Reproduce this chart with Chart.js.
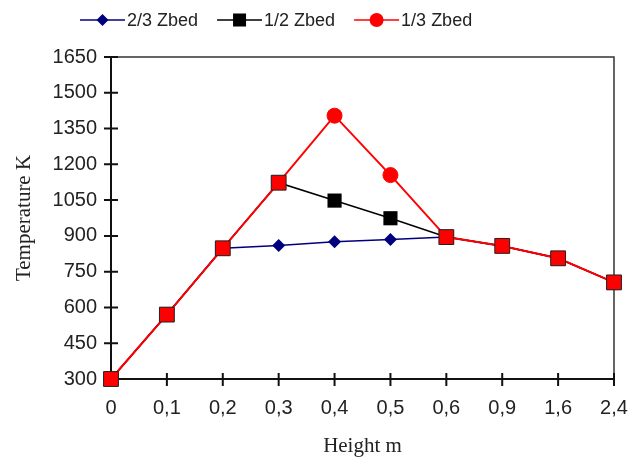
<!DOCTYPE html>
<html>
<head>
<meta charset="utf-8">
<script src="https://cdn.jsdelivr.net/npm/chart.js@4.4.1/dist/chart.umd.min.js"></script>
<style>
  html, body { margin: 0; padding: 0; background: #fff; }
  #wrap { width: 634px; height: 463px; }
</style>
</head>
<body>
<div id="wrap"><canvas id="tempChart"></canvas></div>
<script>
// Bed heights (category labels) and temperatures
const heights = ['0', '0,1', '0,2', '0,3', '0,4', '0,5', '0,6', '0,9', '1,6', '2,4'];
const zbed23 = [300, 570, 848, 860, 875, 885, 895, 858, 806, 705];
const zbed12 = [300, 570, 848, 1123, 1048, 974, 895, 858, 806, 705];
const zbed13 = [300, 570, 848, 1123, 1404, 1155, 895, 858, 806, 705];
const seriesNames = ['2/3 Zbed', '1/2 Zbed', '1/3 Zbed'];
const yMin = 300;
const yMax = 1650;
const yStep = 150;

const BLUE = '#00007f';
const BLACK = '#000000';
const RED = '#ff0000';
const serif = "'Liberation Serif', 'Times New Roman', serif";

// where the 1/3 curve sits on top of the others it shows squares, else circles
const redStyles = zbed13.map((v, i) => v === zbed12[i] ? 'rect' : 'circle');
const legendShapes = ['diamond', 'square', 'circle'];

// legend row: line + marker, then the name
const legendPlugin = {
  id: 'lineLegend',
  afterDraw(chart) {
    const { ctx } = chart;
    let x = 80;
    const y = 20;
    ctx.save();
    ctx.font = "18px 'Liberation Sans', Arial, sans-serif";
    ctx.textBaseline = 'middle';
    chart.data.datasets.forEach((ds, i) => {
      const c = ds.borderColor;
      ctx.strokeStyle = c;
      ctx.fillStyle = c;
      ctx.lineWidth = 1.5;
      ctx.beginPath();
      ctx.moveTo(x, y);
      ctx.lineTo(x + 45, y);
      ctx.stroke();
      const mx = x + 22.5;
      ctx.beginPath();
      if (legendShapes[i] === 'diamond') {
        ctx.moveTo(mx, y - 6); ctx.lineTo(mx + 6, y); ctx.lineTo(mx, y + 6); ctx.lineTo(mx - 6, y);
      } else if (legendShapes[i] === 'square') {
        ctx.rect(mx - 6.5, y - 6.5, 13, 13);
      } else {
        ctx.arc(mx, y, 7, 0, Math.PI * 2);
      }
      ctx.closePath();
      ctx.fill();
      ctx.fillStyle = '#222';
      ctx.fillText(ds.label, x + 47, y + 1);
      x += 47 + ctx.measureText(ds.label).width + 19;
    });
    ctx.restore();
  }
};

// frame on top/right and tick marks that cross the axes
const framePlugin = {
  id: 'frame',
  beforeDatasetsDraw(chart) {
    const { ctx, chartArea: a, scales: { x, y } } = chart;
    ctx.save();
    ctx.strokeStyle = '#333';
    ctx.lineWidth = 1.5;
    ctx.beginPath();
    ctx.moveTo(a.left, a.top);
    ctx.lineTo(a.right, a.top);
    ctx.lineTo(a.right, a.bottom);
    ctx.stroke();
    ctx.strokeStyle = '#111';
    ctx.lineWidth = 2;
    ctx.beginPath();
    x.ticks.forEach((t, i) => {
      const px = x.getPixelForTick(i);
      ctx.moveTo(px, a.bottom - 6);
      ctx.lineTo(px, a.bottom + 7);
    });
    y.ticks.forEach((t, i) => {
      const py = y.getPixelForTick(i);
      ctx.moveTo(a.left - 7, py);
      ctx.lineTo(a.left + 7, py);
    });
    ctx.stroke();
    ctx.restore();
  }
};

Chart.defaults.font.family = "'Liberation Sans', Arial, sans-serif";
Chart.defaults.color = '#222';

const ctx = document.getElementById('tempChart');
new Chart(ctx, {
  type: 'line',
  data: {
    labels: heights,
    datasets: [
      {
        label: seriesNames[0],
        data: zbed23,
        order: 3,
        borderColor: BLUE,
        backgroundColor: BLUE,
        borderWidth: 1.5,
        pointStyle: 'rectRot',
        pointRadius: 6.5,
        pointBorderWidth: 0,
        tension: 0,
        clip: false
      },
      {
        label: seriesNames[1],
        data: zbed12,
        order: 2,
        borderColor: BLACK,
        backgroundColor: BLACK,
        borderWidth: 1.5,
        pointStyle: 'rect',
        pointRadius: 10,
        pointBorderWidth: 0,
        tension: 0,
        clip: false
      },
      {
        label: seriesNames[2],
        data: zbed13,
        order: 1,
        borderColor: RED,
        backgroundColor: RED,
        borderWidth: 2,
        pointStyle: redStyles,
        pointRadius: redStyles.map(s => s === 'rect' ? 10.5 : 7.5),
        pointBorderColor: redStyles.map(s => s === 'rect' ? '#222' : RED),
        pointBorderWidth: 1,
        tension: 0,
        clip: false
      }
    ]
  },
  options: {
    responsive: true,
    maintainAspectRatio: false,
    animation: false,
    layout: {
      padding: { top: 57, right: 20, left: 0, bottom: 0 }
    },
    plugins: {
      tooltip: { enabled: false },
      legend: { display: false }
    },
    scales: {
      x: {
        type: 'category',
        offset: false,
        grid: { display: false, drawTicks: false },
        border: { display: true, color: '#111', width: 2 },
        ticks: { font: { size: 20 }, padding: 17, maxRotation: 0, autoSkip: false },
        title: {
          display: true,
          text: 'Height m',
          font: { family: serif, size: 21 },
          color: '#222',
          padding: { top: 0, bottom: 4 }
        },
        afterFit(scale) {
          scale.height = 84;
          scale.paddingLeft = 0;
          scale.paddingRight = 0;
        }
      },
      y: {
        min: yMin,
        max: yMax,
        grid: { display: false, drawTicks: false },
        border: { display: true, color: '#111', width: 2 },
        ticks: {
          stepSize: yStep,
          font: { size: 20 },
          padding: 14,
          callback: v => String(v)
        },
        title: {
          display: true,
          text: 'Temperature K',
          font: { family: serif, size: 21 },
          color: '#222',
          padding: { top: 12, bottom: 0 }
        },
        afterFit(scale) { scale.width = 111; }
      }
    }
  },
  plugins: [framePlugin, legendPlugin]
});
</script>
</body>
</html>
